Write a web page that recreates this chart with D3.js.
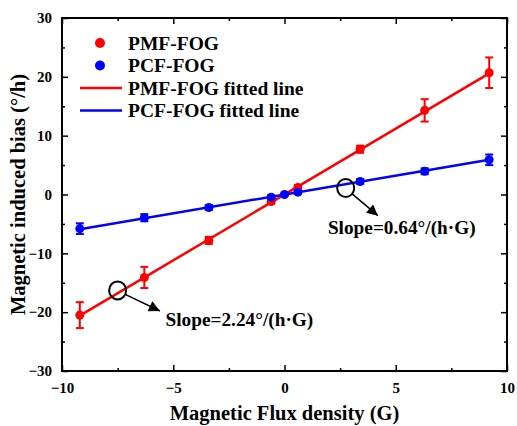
<!DOCTYPE html>
<html>
<head>
<meta charset="utf-8">
<script src="https://cdn.jsdelivr.net/npm/d3@7"></script>
<style>
  body { margin: 0; background: #fff; }
  text { font-family: "Liberation Serif", "Times New Roman", serif; font-weight: bold; }
</style>
</head>
<body>
<div id="chart"></div>
<script>
// magnetic flux density (G)
var fluxPMF = [-9.2, -6.3, -3.4, -0.6, 0.6, 3.4, 6.3, 9.2]
var biasPMF = [-20.5, -14.1, -7.8, -1.2, 1.2, 7.7, 14.3, 20.7]
var errPMF = [2.2, 1.8, 0.6, 0.4, 0.4, 0.6, 1.9, 2.6]

var fluxPCF = [-9.2, -6.3, -3.4, -0.6, 0, 0.6, 3.4, 6.3, 9.2]
var biasPCF = [-5.8, -3.95, -2.2, -0.45, 0, 0.4, 2.2, 3.95, 5.9]
var errPCF = [0.9, 0.6, 0.4, 0.3, 0.2, 0.3, 0.4, 0.5, 0.9]

// fitted lines (end points)
var fitX = [-9.2, 9.2]
var fitPMF = [-20.6, 20.6]
var fitPCF = [-5.89, 5.89]

var xTicks = [-10, -5, 0, 5, 10]
var xMinor = [-7.5, -2.5, 2.5, 7.5]
var yTicks = [-30, -20, -10, 0, 10, 20, 30]
var yMinor = [-25, -15, -5, 5, 15, 25]

var legendNames = ["PMF-FOG", "PCF-FOG", "PMF-FOG fitted line", "PCF-FOG fitted line"]

// annotations: circle centre, arrow tip, text start (data units)
var annotText = ["Slope=2.24°/(h·G)", "Slope=0.64°/(h·G)"]
var annotCircle = [[-7.5, -16.3], [2.75, 1.1]]
var annotTip = [[-5.6, -19.8], [4.2, -3.6]]
var annotLabel = [[-5.35, -22.3], [1.95, -6.7]]

var red = "#ff0000", blue = "#0000ff"

var W = 517, H = 426
var margin = { top: 18, right: 10, bottom: 55, left: 62 },
  width = W - margin.left - margin.right,
  height = H - margin.top - margin.bottom;

var svg = d3.select("#chart")
  .append("svg")
  .attr("width", W)
  .attr("height", H)

var g = svg.append("g")
  .attr("transform", "translate(" + margin.left + "," + margin.top + ")");

var x = d3.scaleLinear().domain([-10, 10]).range([0, width])
var y = d3.scaleLinear().domain([-30, 30]).range([height, 0])

// axes with inward ticks
function styleAxis(sel) {
  sel.select(".domain").remove()
  sel.selectAll("line").attr("stroke", "#000").attr("stroke-width", 1.5)
  sel.selectAll("text").attr("fill", "#000").style("font-size", "15px")
    .style("font-family", "'Liberation Serif', serif").style("font-weight", "bold")
}

g.append("g").attr("transform", "translate(0," + height + ")")
  .call(d3.axisBottom(x).tickValues(xTicks).tickSizeInner(-6).tickSizeOuter(0).tickPadding(11).tickFormat(d3.format("d")))
  .call(styleAxis)
g.append("g").attr("transform", "translate(0," + height + ")")
  .call(d3.axisBottom(x).tickValues(xMinor).tickSizeInner(-3).tickSizeOuter(0).tickFormat(""))
  .call(styleAxis)
g.append("g")
  .call(d3.axisTop(x).tickValues(xTicks).tickSizeInner(-6).tickSizeOuter(0).tickFormat(""))
  .call(styleAxis)
g.append("g")
  .call(d3.axisTop(x).tickValues(xMinor).tickSizeInner(-3).tickSizeOuter(0).tickFormat(""))
  .call(styleAxis)

g.append("g")
  .call(d3.axisLeft(y).tickValues(yTicks).tickSizeInner(-6).tickSizeOuter(0).tickPadding(10).tickFormat(d3.format("d")))
  .call(styleAxis)
g.append("g")
  .call(d3.axisLeft(y).tickValues(yMinor).tickSizeInner(-3).tickSizeOuter(0).tickFormat(""))
  .call(styleAxis)
g.append("g").attr("transform", "translate(" + width + ",0)")
  .call(d3.axisRight(y).tickValues(yTicks).tickSizeInner(-6).tickSizeOuter(0).tickFormat(""))
  .call(styleAxis)
g.append("g").attr("transform", "translate(" + width + ",0)")
  .call(d3.axisRight(y).tickValues(yMinor).tickSizeInner(-3).tickSizeOuter(0).tickFormat(""))
  .call(styleAxis)

// frame
g.append("rect")
  .attr("x", 0).attr("y", 0)
  .attr("width", width).attr("height", height)
  .attr("fill", "none").attr("stroke", "#000").attr("stroke-width", 2)

// fitted lines
var line = d3.line().x(function (d) { return x(d[0]) }).y(function (d) { return y(d[1]) })
g.append("path").attr("d", line(d3.zip(fitX, fitPMF)))
  .attr("fill", "none").attr("stroke", red).attr("stroke-width", 2.5)
g.append("path").attr("d", line(d3.zip(fitX, fitPCF)))
  .attr("fill", "none").attr("stroke", blue).attr("stroke-width", 2.5)

// points with error bars
function drawSeries(xs, ys, es, color) {
  var data = d3.range(xs.length).map(function (i) { return { x: xs[i], y: ys[i], e: es[i] } })
  var s = g.append("g")
  var eb = s.selectAll("g.eb").data(data).enter().append("g")
  eb.append("line")
    .attr("x1", function (d) { return x(d.x) }).attr("x2", function (d) { return x(d.x) })
    .attr("y1", function (d) { return y(d.y - d.e) }).attr("y2", function (d) { return y(d.y + d.e) })
    .attr("stroke", color).attr("stroke-width", 2)
  eb.selectAll("line.cap").data(function (d) { return [[d.x, d.y - d.e], [d.x, d.y + d.e]] })
    .enter().append("line")
    .attr("x1", function (d) { return x(d[0]) - 4 }).attr("x2", function (d) { return x(d[0]) + 4 })
    .attr("y1", function (d) { return y(d[1]) }).attr("y2", function (d) { return y(d[1]) })
    .attr("stroke", color).attr("stroke-width", 2)
  s.selectAll("circle").data(data).enter().append("circle")
    .attr("cx", function (d) { return x(d.x) })
    .attr("cy", function (d) { return y(d.y) })
    .attr("r", 4.5)
    .attr("fill", color)
}
drawSeries(fluxPMF, biasPMF, errPMF, red)
drawSeries(fluxPCF, biasPCF, errPCF, blue)

// annotations
svg.append("defs").append("marker")
  .attr("id", "arrow")
  .attr("viewBox", "0 0 10 10")
  .attr("refX", 10).attr("refY", 5)
  .attr("markerWidth", 16).attr("markerHeight", 11)
  .attr("markerUnits", "userSpaceOnUse")
  .attr("orient", "auto")
  .append("path").attr("d", "M0,0 L10,5 L0,10 Z").attr("fill", "#000")

annotText.forEach(function (t, i) {
  var cx = x(annotCircle[i][0]), cy = y(annotCircle[i][1])
  var tx = x(annotTip[i][0]), ty = y(annotTip[i][1])
  g.append("ellipse").attr("cx", cx).attr("cy", cy).attr("rx", 8.5).attr("ry", 9)
    .attr("fill", "none").attr("stroke", "#000").attr("stroke-width", 2)
  var ang = Math.atan2(ty - cy, tx - cx)
  g.append("line")
    .attr("x1", cx + 8.5 * Math.cos(ang)).attr("y1", cy + 9 * Math.sin(ang))
    .attr("x2", tx).attr("y2", ty)
    .attr("stroke", "#000").attr("stroke-width", 1.5)
    .attr("marker-end", "url(#arrow)")
  g.append("text")
    .attr("x", x(annotLabel[i][0])).attr("y", y(annotLabel[i][1]))
    .style("font-size", "19.3px")
    .text(t)
})

// legend
var legend = g.append("g").attr("transform", "translate(18,25)")
legendNames.forEach(function (name, i) {
  var yy = i * 22.5
  var col = i % 2 === 0 ? red : blue
  if (i < 2) {
    legend.append("circle").attr("cx", 20).attr("cy", yy).attr("r", 5).attr("fill", col)
  } else {
    legend.append("line").attr("x1", 0).attr("x2", 42).attr("y1", yy).attr("y2", yy)
      .attr("stroke", col).attr("stroke-width", 2.5)
  }
  legend.append("text").attr("x", 48).attr("y", yy).attr("dy", "0.35em")
    .style("font-size", "19.5px").text(name)
})

// axis titles
svg.append("text")
  .attr("x", margin.left + width / 2).attr("y", 420)
  .attr("text-anchor", "middle")
  .style("font-size", "20.5px")
  .text("Magnetic Flux density (G)")

svg.append("text")
  .attr("transform", "translate(25," + (margin.top + y(0)) + ") rotate(-90)")
  .attr("text-anchor", "middle")
  .style("font-size", "20.5px")
  .text("Magnetic induced bias (°/h)")
</script>
</body>
</html>
